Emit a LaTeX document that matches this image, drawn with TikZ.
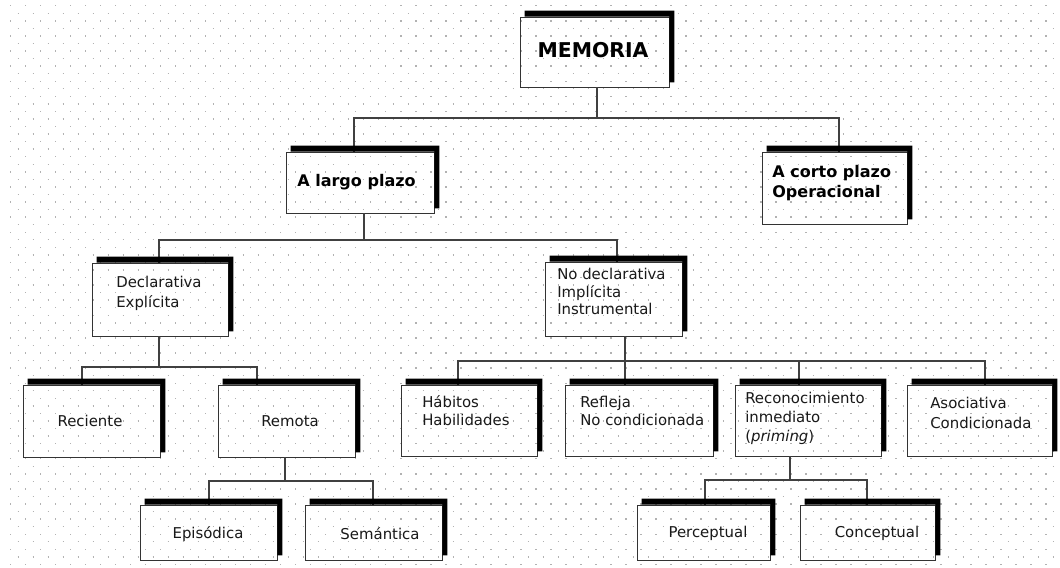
\documentclass[tikz,border=0pt]{standalone}
\usepackage{fontspec}
\setmainfont{DejaVu Sans}
\begin{document}
\begin{tikzpicture}[x=0.025cm,y=-0.025cm,
  box/.style={draw=black!80, line width=0.6pt, inner sep=0pt, rectangle},
  conn/.style={draw=black!75, line width=0.8pt},
  shad/.style={fill=black},
  txt/.style={inner sep=0pt, text=black!90, font=\fontsize{10.6}{13.5}\selectfont, align=left},
  ttl/.style={inner sep=0pt, text=black, font=\bfseries\fontsize{11.4}{14}\selectfont, align=left},
  dotrow/.style={draw=black!30, line width=0.035cm, dash pattern=on 0.03cm off 0.345cm}]
\useasboundingbox (0,0) rectangle (1060,567);
\fill[white] (0,0) rectangle (1060,567);
% dotted background
\foreach \k in {0,...,74}{
  \pgfmathsetmacro\yy{5.7+7.55*\k}
  \pgfmathsetmacro\xx{10.2+7.5*mod(\k,2)}
  \draw[dotrow] (\xx,\yy) -- (1060,\yy);
}
% boxes
\node[box, minimum width=3.725cm, minimum height=1.75cm]  (mem)   at (594.5,52) {};
\node[box, minimum width=3.7cm,   minimum height=1.525cm] (lp)    at (360,182.5) {};
\node[box, minimum width=3.625cm, minimum height=1.8cm]   (cp)    at (834.5,188) {};
\node[box, minimum width=3.4cm,   minimum height=1.825cm] (dec)   at (160,299.5) {};
\node[box, minimum width=3.425cm, minimum height=1.85cm]  (nodec) at (613.5,299) {};
\node[box, minimum width=3.425cm, minimum height=1.8cm]   (rec)   at (91.5,421) {};
\node[box, minimum width=3.425cm, minimum height=1.8cm]   (rem)   at (286.5,421) {};
\node[box, minimum width=3.4cm,   minimum height=1.775cm] (hab)   at (469,420.5) {};
\node[box, minimum width=3.7cm,   minimum height=1.775cm] (ref)   at (639,420.5) {};
\node[box, minimum width=3.65cm,  minimum height=1.775cm] (reco)  at (808,420.5) {};
\node[box, minimum width=3.625cm, minimum height=1.775cm] (aso)   at (979.5,420.5) {};
\node[box, minimum width=3.425cm, minimum height=1.375cm] (epi)   at (208.5,532.5) {};
\node[box, minimum width=3.425cm, minimum height=1.375cm] (sem)   at (373.5,532.5) {};
\node[box, minimum width=3.325cm, minimum height=1.375cm] (per)   at (703.5,532.5) {};
\node[box, minimum width=3.375cm, minimum height=1.375cm] (con)   at (867.5,532.5) {};
% connector attachment points
\coordinate (memB)  at ([shift={(2.5,0)}]mem.south);
\coordinate (lpT)   at ([shift={(-6,0)}]lp.north);
\coordinate (cpT)   at ([shift={(4.5,0)}]cp.north);
\coordinate (bus1)  at (597,118);
\coordinate (lpB)   at ([shift={(4,0)}]lp.south);
\coordinate (decT)  at ([shift={(-1,0)}]dec.north);
\coordinate (nodecT) at ([shift={(3.5,0)}]nodec.north);
\coordinate (bus2)  at (364,240);
\coordinate (decB)  at ([shift={(-1,0)}]dec.south);
\coordinate (recT)  at ([shift={(-9.5,0)}]rec.north);
\coordinate (remT)  at ([shift={(-29.5,0)}]rem.north);
\coordinate (bus3)  at (159,367);
\coordinate (remB)  at ([shift={(-1.5,0)}]rem.south);
\coordinate (epiT)  at ([shift={(0.5,0)}]epi.north);
\coordinate (semT)  at ([shift={(-0.5,0)}]sem.north);
\coordinate (bus4)  at (285,481);
\coordinate (nodecB) at ([shift={(11.5,0)}]nodec.south);
\coordinate (habT)  at ([shift={(-11,0)}]hab.north);
\coordinate (refT)  at ([shift={(-14,0)}]ref.north);
\coordinate (recoT) at ([shift={(-9,0)}]reco.north);
\coordinate (asoT)  at ([shift={(5.5,0)}]aso.north);
\coordinate (bus5)  at (625,361);
\coordinate (recoB) at ([shift={(-18,0)}]reco.south);
\coordinate (perT)  at ([shift={(1.5,0)}]per.north);
\coordinate (conT)  at ([shift={(-0.5,0)}]con.north);
\coordinate (bus6)  at (790,480);
% connectors
\draw[conn] (memB) -- (memB |- bus1);
\draw[conn] (lpT) |- (bus1) -| (cpT);
\draw[conn] (lpB) -- (lpB |- bus2);
\draw[conn] (decT) |- (bus2) -| (nodecT);
\draw[conn] (decB) -- (decB |- bus3);
\draw[conn] (recT) |- (bus3) -| (remT);
\draw[conn] (remB) -- (remB |- bus4);
\draw[conn] (epiT) |- (bus4) -| (semT);
\draw[conn] (nodecB) -- (nodecB |- bus5);
\draw[conn] (habT) |- (bus5) -| (asoT);
\draw[conn] (refT) -- (refT |- bus5);
\draw[conn] (recoT) -- (recoT |- bus5);
\draw[conn] (recoB) -- (recoB |- bus6);
\draw[conn] (perT) |- (bus6) -| (conT);
% shadows (top and right bars)
\foreach \n in {mem,lp,cp,dec,nodec,rec,rem,hab,ref,reco,aso,epi,sem,per,con}{
  \fill[shad] ([shift={(5,0)}]\n.north west) -- ([shift={(5,-6)}]\n.north west)
    -- ([shift={(5,-6)}]\n.north east) -- ([shift={(5,-5)}]\n.south east)
    -- ([shift={(0,-5)}]\n.south east) -- (\n.north east) -- cycle;
}
% texts
\node[ttl, font=\bfseries\fontsize{14.5}{17}\selectfont] (memt) at (593,50) {MEMORIA};
\node[ttl, anchor=west] (lpt) at (297,182) {A largo plazo};
\node[ttl, anchor=west] (cpt) at (772,183) {A corto plazo\\Operacional};
\node[txt, anchor=west, font=\fontsize{10.6}{14.2}\selectfont] (dect) at (116,293) {Declarativa\\Explícita};
\node[txt, anchor=west, font=\fontsize{10.6}{12.4}\selectfont] (nodect) at (557,291.5) {No declarativa\\Implícita\\Instrumental};
\node[txt, anchor=west, font=\fontsize{10.6}{12.8}\selectfont] (habt) at (422,411) {Hábitos\\Habilidades};
\node[txt, anchor=west, font=\fontsize{10.6}{12.8}\selectfont] (reft) at (580,411) {Refleja\\No condicionada};
\node[txt, anchor=west] (recot) at (745,418.5) {Reconocimiento\\inmediato\\(\textit{priming})};
\node[txt, anchor=west, font=\fontsize{10.6}{14.2}\selectfont] (asot) at (930,413) {Asociativa\\Condicionada};
\node[txt] (rect) at (90,421) {Reciente};
\node[txt] (remt) at (290,421) {Remota};
\node[txt] (epit) at (208,534) {Episódica};
\node[txt] (semt) at (380,534) {Semántica};
\node[txt] (pert) at (708,533) {Perceptual};
\node[txt] (cont) at (877,533) {Conceptual};
\end{tikzpicture}
\end{document}
